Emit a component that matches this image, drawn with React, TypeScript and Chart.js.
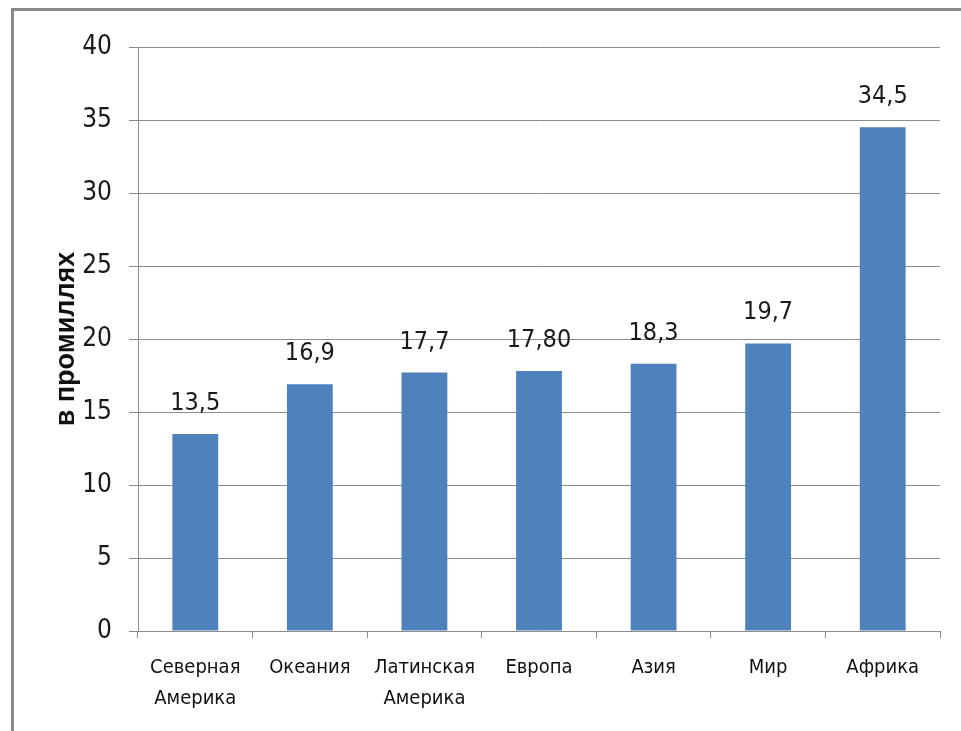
import React, { useEffect, useRef } from "react";
import { Chart, registerables } from "chart.js";

Chart.register(...registerables);

// Rate per thousand, by region
const regions: string[][] = [
  ["Северная", "Америка"],
  ["Океания"],
  ["Латинская", "Америка"],
  ["Европа"],
  ["Азия"],
  ["Мир"],
  ["Африка"],
];
const rates: number[] = [13.5, 16.9, 17.7, 17.8, 18.3, 19.7, 34.5];
const rateDecimals: number[] = [1, 1, 1, 2, 1, 1, 1];
const axisTitle = "в промиллях";
const yMin = 0;
const yMax = 40;
const yStep = 5;

const NARROW = "'Liberation Sans Narrow', 'DejaVu Sans Condensed', 'Liberation Sans', sans-serif";
const SANS = "'Liberation Sans', Arial, sans-serif";
const GRID = "#8c8c8c";
const TEXT = "#1a1a1a";
const BAR = "#4f81bd";

const formatRate = (v: number, d: number) => v.toFixed(d).replace(".", ",");

// Frame around the chart (top and left edges)
const framePlugin = {
  id: "frame",
  beforeDraw(chart: any) {
    const { ctx, width, height } = chart;
    ctx.save();
    ctx.fillStyle = "#ffffff";
    ctx.fillRect(0, 0, width, height);
    ctx.strokeStyle = "#8a8a8a";
    ctx.lineWidth = 3;
    ctx.beginPath();
    ctx.moveTo(12.5, height);
    ctx.lineTo(12.5, 9.5);
    ctx.lineTo(width, 9.5);
    ctx.stroke();
    ctx.restore();
  },
};

// Value labels above each bar
const valueLabelPlugin = {
  id: "valueLabels",
  afterDatasetsDraw(chart: any) {
    const { ctx } = chart;
    const meta = chart.getDatasetMeta(0);
    ctx.save();
    ctx.font = `25px ${NARROW}`;
    ctx.fillStyle = TEXT;
    ctx.textAlign = "center";
    ctx.textBaseline = "alphabetic";
    meta.data.forEach((bar: any, i: number) => {
      ctx.fillText(formatRate(rates[i], rateDecimals[i]), bar.x, bar.y - 24);
    });
    ctx.restore();
  },
};

export default function App() {
  const canvasRef = useRef<HTMLCanvasElement | null>(null);

  useEffect(() => {
    if (!canvasRef.current) return;
    const chart = new Chart(canvasRef.current, {
      type: "bar",
      data: {
        labels: regions,
        datasets: [
          {
            data: rates,
            backgroundColor: BAR,
            borderWidth: 0,
            barPercentage: 0.4,
            categoryPercentage: 1,
          },
        ],
      },
      options: {
        responsive: false,
        animation: false,
        layout: { padding: { top: 47, right: 21, left: 0, bottom: 0 } },
        plugins: {
          legend: { display: false },
          tooltip: { enabled: false },
        },
        scales: {
          x: {
            offset: true,
            grid: {
              offset: true,
              drawOnChartArea: false,
              drawTicks: true,
              tickLength: 7,
              color: GRID,
            },
            border: { color: GRID },
            ticks: {
              autoSkip: false,
              maxRotation: 0,
              padding: 14,
              color: "#111111",
              font: { family: NARROW, size: 20, lineHeight: 1.55 },
            },
            afterFit(scale: any) {
              scale.height = 100;
            },
          },
          y: {
            min: yMin,
            max: yMax,
            grid: { color: GRID, tickLength: 9 },
            border: { color: GRID },
            ticks: {
              stepSize: yStep,
              padding: 17,
              color: TEXT,
              font: { family: NARROW, size: 26 },
            },
            title: {
              display: true,
              text: axisTitle,
              color: "#111111",
              font: { family: SANS, size: 27, weight: "bold" },
              padding: { top: 50, bottom: 0 },
            },
            afterFit(scale: any) {
              scale.width = 138;
            },
          },
        },
      },
      plugins: [framePlugin, valueLabelPlugin],
    });
    return () => chart.destroy();
  }, []);

  return (
    <div style={{ position: "fixed", left: 0, top: 0, width: 961, height: 731, overflow: "hidden", background: "#fff" }}>
      <canvas ref={canvasRef} width={961} height={731} style={{ display: "block" }} />
    </div>
  );
}
